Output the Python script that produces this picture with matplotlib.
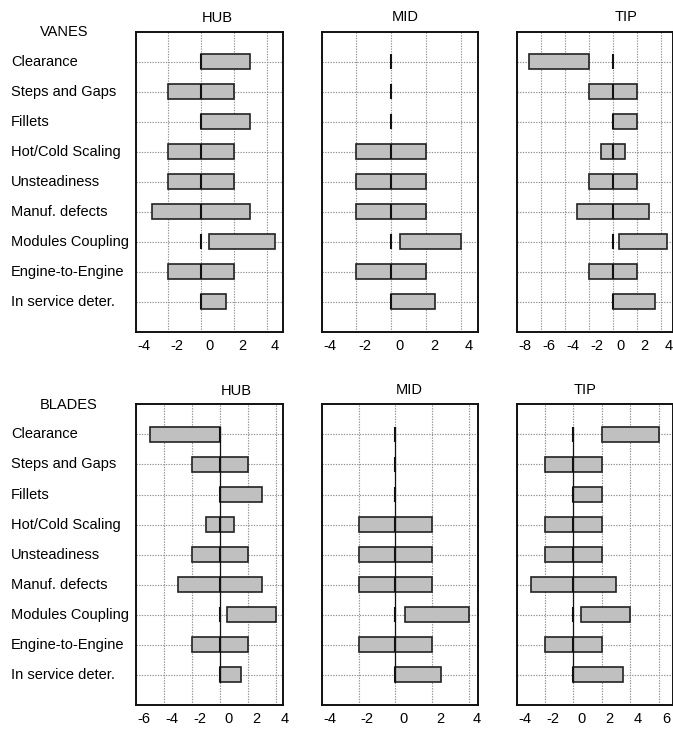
import numpy as np
import matplotlib
matplotlib.use("Agg")
import matplotlib.pyplot as plt
from matplotlib.transforms import ScaledTranslation, blended_transform_factory

plt.rcParams["font.family"] = ["Liberation Sans", "DejaVu Sans"]
plt.rcParams["font.size"] = 10.5

categories = ["Clearance", "Steps and Gaps", "Fillets", "Hot/Cold Scaling",
              "Unsteadiness", "Manuf. defects", "Modules Coupling",
              "Engine-to-Engine", "In service deter."]

# uncertainty bands (low, high) per source, one pair of lists per panel
vanes_hub_lo = [0, -2, 0, -2, -2, -3, 0.5, -2, 0]
vanes_hub_hi = [3, 2, 3, 2, 2, 3, 4.5, 2, 1.5]
vanes_mid_lo = [0, 0, 0, -2, -2, -2, 0.5, -2, 0]
vanes_mid_hi = [0, 0, 0, 2, 2, 2, 4, 2, 2.5]
vanes_tip_lo = [-7, -2, 0, -1, -2, -3, 0.5, -2, 0]
vanes_tip_hi = [-2, 2, 2, 1, 2, 3, 4.5, 2, 3.5]

blades_hub_lo = [-5, -2, 0, -1, -2, -3, 0.5, -2, 0]
blades_hub_hi = [0, 2, 3, 1, 2, 3, 4, 2, 1.5]
blades_mid_lo = [0, 0, 0, -2, -2, -2, 0.5, -2, 0]
blades_mid_hi = [0, 0, 0, 2, 2, 2, 4, 2, 2.5]
blades_tip_lo = [2, -2, 0, -2, -2, -3, 0.5, -2, 0]
blades_tip_hi = [6, 2, 2, 2, 2, 3, 4, 2, 3.5]

panels = [
    # (lo, hi, xlim, ticks, title, title x/y in px, solid zero line)
    (vanes_hub_lo, vanes_hub_hi, (-4, 5), np.arange(-4, 5, 2), "HUB", (217.5, 17.5), False),
    (vanes_mid_lo, vanes_mid_hi, (-4, 5), np.arange(-4, 5, 2), "MID", (405, 16.7), False),
    (vanes_tip_lo, vanes_tip_hi, (-8, 5), np.arange(-8, 5, 2), "TIP", (625.8, 16.7), False),
    (blades_hub_lo, blades_hub_hi, (-6, 4.5), np.arange(-6, 5, 2), "HUB", (236, 390.5), True),
    (blades_mid_lo, blades_mid_hi, (-4, 4.5), np.arange(-4, 5, 2), "MID", (409.2, 389.5), True),
    (blades_tip_lo, blades_tip_hi, (-4, 7), np.arange(-4, 7, 2), "TIP", (585.3, 389.5), True),
]

W, H = 673, 730
fig = plt.figure(figsize=(W / 100, H / 100), dpi=100)

col_px = [(135.7, 147.6), (321.7, 156.6), (516.7, 156.0)]
row_px = [(31.7, 300.3), (404.3, 300.7)]

y = np.arange(1, len(categories) + 1)

for i, (lo, hi, xlim, ticks, title, tpos, solid_zero) in enumerate(panels):
    r, c = divmod(i, 3)
    left, width = col_px[c]
    top, height = row_px[r]
    ax = fig.add_axes([left / W, 1 - (top + height) / H, width / W, height / H])

    lo = np.array(lo, dtype=float)
    hi = np.array(hi, dtype=float)
    ax.barh(y, hi - lo, left=lo, height=0.5, color="#c0c0c0",
            edgecolor="#222222", linewidth=1.2, zorder=3)
    # zero-width bars give the short black mark at 0 in every row
    ax.barh(y, np.zeros_like(y, dtype=float), left=0, height=0.5,
            color="none", edgecolor="#111111", linewidth=1.5, zorder=4)
    if solid_zero:
        ax.plot([0, 0], [0.75, 9.25], color="#111111", lw=0.9, zorder=4)

    ax.set_xlim(*xlim)
    ax.set_ylim(10, 0)
    ax.set_yticks(y)
    ax.set_yticklabels([])
    ax.set_xticks(ticks)
    ax.set_xticklabels([f"{t:g}" for t in ticks])
    ax.tick_params(length=0, pad=5)
    off = ScaledTranslation(0.08, 0, fig.dpi_scale_trans)
    for lab in ax.get_xticklabels():
        lab.set_transform(lab.get_transform() + off)

    ax.grid(True, color="#909090", linestyle=(0, (1.2, 1.2)), linewidth=0.8, zorder=0)
    ax.set_axisbelow(True)
    for sp in ax.spines.values():
        sp.set_linewidth(1.4)
        sp.set_color("#111111")

    fig.text(tpos[0] / W, 1 - tpos[1] / H, title, ha="center", va="center")

    if c == 0:
        tr = blended_transform_factory(fig.transFigure, ax.transData)
        for yy, name in zip(y, categories):
            ax.text(11 / W, yy, name, transform=tr, ha="left", va="center",
                    clip_on=False)

fig.text(64.3 / W, 1 - 32 / H, "VANES", ha="center", va="center")
fig.text(68.3 / W, 1 - 405 / H, "BLADES", ha="center", va="center")

fig.savefig("out.png", dpi=100)
